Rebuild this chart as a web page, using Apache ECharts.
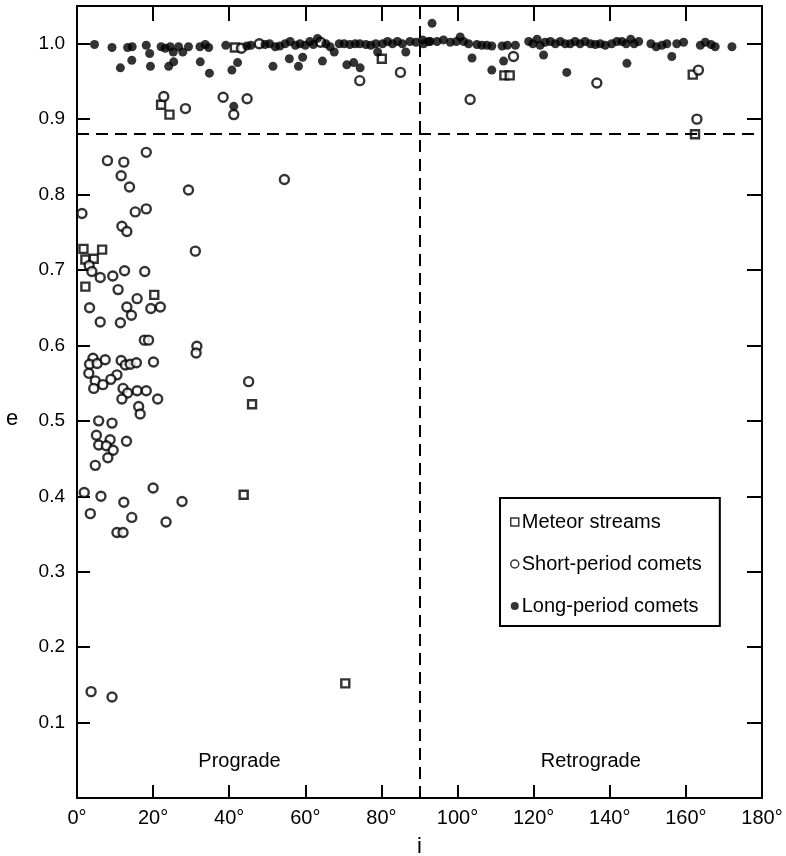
<!DOCTYPE html>
<html>
<head>
<meta charset="utf-8">
<style>
  html, body { margin: 0; padding: 0; background: #fff; }
  #chart { width: 786px; height: 856px; }
</style>
<script src="https://cdn.jsdelivr.net/npm/echarts@6/dist/echarts.min.js"></script>
</head>
<body>
<div id="chart"></div>
<script>
// inclination i (deg), eccentricity e
var meteorStreams = [
  [22.1, 0.919], [24.3, 0.906], [80.1, 0.980], [41.5, 0.995], [112.3, 0.958], [113.7, 0.958],
  [161.8, 0.959], [162.4, 0.880], [1.7, 0.728], [6.6, 0.727], [2.2, 0.714], [4.4, 0.715],
  [2.2, 0.678], [20.3, 0.667], [46.0, 0.522], [43.8, 0.402], [70.5, 0.152]
];
var shortPeriod = [
  [22.8, 0.930], [28.5, 0.914], [38.4, 0.929], [41.2, 0.906], [44.7, 0.927], [74.3, 0.951],
  [85.0, 0.962], [43.2, 0.994], [47.9, 1.000], [64.0, 1.002], [114.7, 0.983], [103.3, 0.926],
  [136.6, 0.948], [163.3, 0.965], [162.9, 0.900],
  [18.2, 0.856], [8.0, 0.845], [12.3, 0.843], [11.6, 0.825], [13.8, 0.810], [29.3, 0.806],
  [54.5, 0.820], [1.3, 0.775], [15.3, 0.777], [18.2, 0.781], [11.8, 0.758], [13.1, 0.751],
  [31.1, 0.725], [3.2, 0.706], [3.9, 0.698], [6.1, 0.690], [9.4, 0.692], [12.5, 0.699],
  [17.8, 0.698], [10.8, 0.674], [15.8, 0.662], [3.3, 0.650], [13.1, 0.651], [14.3, 0.640],
  [19.4, 0.649], [21.9, 0.651], [6.1, 0.631], [11.4, 0.630],
  [17.7, 0.607], [18.8, 0.607], [31.5, 0.599], [31.3, 0.590], [4.2, 0.583], [3.3, 0.575],
  [5.3, 0.576], [7.4, 0.581], [11.6, 0.580], [12.7, 0.574], [14.0, 0.575], [15.6, 0.577],
  [20.1, 0.578], [3.1, 0.563], [10.5, 0.561], [8.9, 0.555], [4.8, 0.553], [6.8, 0.548],
  [4.4, 0.543], [12.1, 0.543], [13.3, 0.537], [15.8, 0.540], [18.2, 0.540], [11.8, 0.529],
  [21.2, 0.529], [16.2, 0.519], [16.6, 0.509], [45.1, 0.552], [5.7, 0.500], [9.2, 0.497],
  [5.1, 0.481], [8.7, 0.475], [5.7, 0.468], [7.7, 0.467], [9.5, 0.461], [8.1, 0.451],
  [13.0, 0.473], [4.8, 0.441], [1.9, 0.405], [6.3, 0.400], [20.0, 0.411], [12.3, 0.392],
  [27.6, 0.393], [3.5, 0.377], [14.4, 0.372], [23.4, 0.366], [10.5, 0.352], [12.1, 0.352],
  [3.7, 0.141], [9.2, 0.134]
];
var longPeriod = [
  [4.6, 0.999], [9.2, 0.995], [13.3, 0.995], [14.5, 0.996], [18.2, 0.998], [19.1, 0.987],
  [22.1, 0.996], [23.2, 0.994], [24.5, 0.996], [25.3, 0.989], [26.7, 0.996], [27.8, 0.989],
  [29.3, 0.996], [32.3, 0.996], [33.7, 0.999], [34.6, 0.995], [39.1, 0.998], [44.6, 0.997],
  [45.7, 0.998], [49.4, 0.999], [50.6, 1.000], [52.1, 0.996], [53.3, 0.997], [54.7, 1.000],
  [56.0, 1.003], [57.4, 0.998], [58.6, 1.000], [60.0, 0.998], [61.2, 1.003], [62.1, 0.999],
  [63.2, 1.007], [65.4, 1.000], [66.5, 0.996], [67.6, 0.989], [68.9, 1.000], [70.2, 1.000],
  [71.7, 0.999], [73.1, 1.000], [74.3, 1.000], [75.9, 0.999], [77.2, 0.998], [78.5, 1.000],
  [79.0, 0.989], [80.3, 1.000], [81.6, 1.003], [82.9, 1.000], [84.2, 1.003], [85.5, 1.000],
  [86.4, 0.989], [87.5, 1.003], [89.1, 1.002], [90.8, 1.005], [92.4, 1.003],
  [91.1, 1.000], [92.8, 1.003], [94.6, 1.003], [96.3, 1.005], [98.1, 1.002], [99.7, 1.003],
  [100.7, 1.009], [101.6, 1.003], [102.9, 1.000], [105.1, 0.999], [106.4, 0.998], [107.7, 0.998],
  [109.0, 0.997], [111.7, 0.997], [113.1, 0.998], [115.2, 0.998], [118.7, 1.003], [119.8, 1.000],
  [120.9, 1.006], [121.7, 0.998], [123.0, 1.002], [124.4, 1.003], [125.7, 1.000], [127.0, 1.003],
  [128.3, 1.000], [129.6, 1.000], [130.9, 1.003], [132.2, 1.000], [133.5, 1.003], [134.9, 1.000],
  [136.2, 0.999], [137.5, 1.000], [138.8, 0.998], [140.5, 1.000], [141.9, 1.003], [143.2, 1.003],
  [144.3, 1.000], [145.5, 1.006], [146.4, 1.000], [147.6, 1.003], [150.8, 1.000], [152.2, 0.996],
  [153.7, 0.998], [155.0, 1.000], [157.6, 1.000], [159.4, 1.002], [163.8, 0.998], [165.1, 1.002],
  [166.6, 0.999], [167.7, 0.996], [172.1, 0.996],
  [11.4, 0.968], [14.4, 0.978], [19.3, 0.970], [24.1, 0.970], [25.4, 0.976], [32.4, 0.976],
  [34.8, 0.961], [40.7, 0.965], [42.2, 0.975], [51.5, 0.970], [55.8, 0.980], [58.2, 0.970],
  [59.3, 0.982], [64.5, 0.977], [70.9, 0.972], [72.7, 0.975], [74.4, 0.968], [41.2, 0.917],
  [93.3, 1.027], [103.8, 0.981], [109.0, 0.965], [112.1, 0.977], [128.7, 0.962], [144.5, 0.974],
  [122.6, 0.985], [156.3, 0.983]
];
var seriesNames = ['Meteor streams', 'Short-period comets', 'Long-period comets'];
var eLimit = 0.875;   // dashed horizontal
var iLimit = 90;      // prograde / retrograde divide
var eNameAt = 0.5;    // the "e" axis name sits level with this tick

var font = 'Liberation Sans, Arial, sans-serif';
var chart = echarts.init(document.getElementById('chart'));

var openStyle = { color: '#fff', borderColor: '#000', borderWidth: 2.4 };
var axisLine = { onZero: false, lineStyle: { color: '#000', width: 2 } };

chart.setOption({
  animation: false,
  backgroundColor: '#fff',
  textStyle: { fontFamily: font, color: '#000' },
  grid: { left: 77, right: 24, top: 6, bottom: 58, outerBoundsMode: 'none' },
  legend: {
    orient: 'vertical',
    left: 500,
    top: 498,
    padding: [14, 18, 10, 10],
    itemGap: 22,
    itemWidth: 8,
    itemHeight: 8,
    borderColor: '#000',
    borderWidth: 2,
    backgroundColor: '#fff',
    textStyle: { fontFamily: font, fontSize: 20, color: '#000', padding: [0, 0, 0, -2] },
    data: [
      { name: seriesNames[0], icon: 'rect', itemStyle: { color: '#fff', borderColor: '#000', borderWidth: 1.5 } },
      { name: seriesNames[1], icon: 'circle', itemStyle: { color: '#fff', borderColor: '#000', borderWidth: 1.5 } },
      { name: seriesNames[2], icon: 'circle', itemStyle: { color: '#000', borderWidth: 0 } }
    ]
  },
  xAxis: [
    {
      type: 'value', min: 0, max: 180, interval: 20,
      name: 'i', nameLocation: 'middle', nameGap: 38,
      nameTextStyle: { fontFamily: font, fontSize: 22, color: '#000' },
      axisLine: axisLine,
      axisTick: { inside: true, length: 13, lineStyle: { color: '#000', width: 2 } },
      axisLabel: { fontFamily: font, fontSize: 20, color: '#000', margin: 10, formatter: function (v) { return v + '°'; } },
      splitLine: { show: false }
    },
    {
      type: 'value', position: 'top', min: 0, max: 180, interval: 20,
      axisLine: axisLine,
      axisTick: { inside: true, length: 15, lineStyle: { color: '#000', width: 2 } },
      axisLabel: { show: false },
      splitLine: { show: false }
    }
  ],
  yAxis: [
    {
      type: 'value', min: 0, max: 1.05, interval: 0.1,
      axisLine: axisLine,
      axisTick: { inside: true, length: 13, lineStyle: { color: '#000', width: 2 } },
      axisLabel: {
        fontFamily: font, fontSize: 19, color: '#000', margin: 12,
        formatter: function (v) { return (v > 0.05 && v < 1.02) ? v.toFixed(1) : ''; }
      },
      splitLine: { show: false }
    },
    {
      type: 'value', position: 'right', min: 0, max: 1.05, interval: 0.1,
      axisLine: axisLine,
      axisTick: { inside: true, length: 15, lineStyle: { color: '#000', width: 2 } },
      axisLabel: { show: false },
      splitLine: { show: false }
    }
  ],
  series: [
    {
      name: seriesNames[0], type: 'scatter', symbol: 'rect', symbolSize: 8,
      itemStyle: openStyle, data: meteorStreams, z: 3
    },
    {
      name: seriesNames[1], type: 'scatter', symbol: 'circle', symbolSize: 9,
      itemStyle: openStyle, data: shortPeriod, z: 3
    },
    {
      name: seriesNames[2], type: 'scatter', symbol: 'circle', symbolSize: 9,
      itemStyle: { color: '#000' }, data: longPeriod, z: 4,
      markLine: {
        silent: true, symbol: 'none', animation: false,
        label: { show: false },
        lineStyle: { color: '#000', width: 2, type: [12, 7] },
        data: [{ yAxis: eLimit }, { xAxis: iLimit }]
      },
      markPoint: {
        silent: true, symbol: 'circle', symbolSize: 0,
        label: { show: true, position: 'inside', formatter: '{b}', fontFamily: font, fontSize: 20, color: '#000' },
        data: [
          { name: 'Prograde', coord: [42.7, 0.048] },
          { name: 'Retrograde', coord: [135, 0.048] }
        ]
      }
    }
  ]
});

// axis name "e", placed level with the 0.5 tick label
var eY = chart.convertToPixel({ yAxisIndex: 0 }, eNameAt);
chart.setOption({
  graphic: [{
    type: 'text', left: 6, top: eY - 13,
    style: { text: 'e', fontFamily: font, fontSize: 22, fill: '#000' }
  }]
});
</script>
</body>
</html>
